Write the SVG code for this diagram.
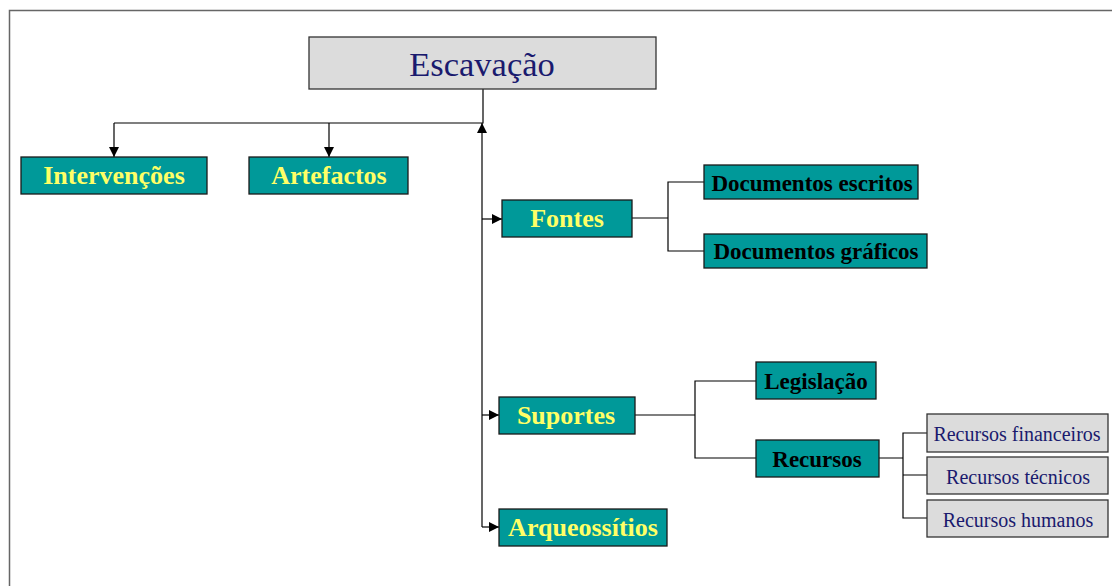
<svg xmlns="http://www.w3.org/2000/svg" width="1112" height="586" viewBox="0 0 1112 586">
<style>
.t{fill:#009999;stroke:#1a1a1a;stroke-width:1.3}
.g{fill:#dcdcdc;stroke:#333;stroke-width:1.3}
.ty{font-family:"Liberation Serif",serif;font-weight:bold;font-size:26px;fill:#ffff66;text-anchor:middle}
.tb{font-family:"Liberation Serif",serif;font-weight:bold;font-size:23px;fill:#000;text-anchor:middle}
.tn{font-family:"Liberation Serif",serif;font-size:20px;fill:#1a1a6e;text-anchor:middle}
.c{fill:none;stroke:#000;stroke-width:1.2}
</style>
<defs>
<marker id="a" viewBox="0 0 10 10" refX="10" refY="5" markerWidth="10" markerHeight="10" markerUnits="userSpaceOnUse" orient="auto">
<path d="M0,0L10,5L0,10z" fill="#000"/>
</marker>
</defs>
<rect width="1112" height="586" fill="#fff"/>
<path d="M9.5,586V10.5H1112" fill="none" stroke="#666" stroke-width="1.5"/>
<g id="connectors">
<path class="c" d="M483,89V123H114"/>
<path class="c" d="M114,123V157" marker-end="url(#a)"/>
<path class="c" d="M329,123V157" marker-end="url(#a)"/>
<path class="c" d="M482,527V123" marker-end="url(#a)"/>
<path class="c" d="M482,219H502" marker-end="url(#a)"/>
<path class="c" d="M482,415H499" marker-end="url(#a)"/>
<path class="c" d="M482,527H499" marker-end="url(#a)"/>
<path class="c" d="M632,218H668M704,182H668V251H704"/>
<path class="c" d="M635,415H695M756,381H695V458H756"/>
<path class="c" d="M879,458H903M927,433H903V518H927M903,475H927"/>
</g>
<g id="escavacao"><rect x="309" y="37" width="347" height="52" class="g"/><text x="482" y="76" font-family="Liberation Serif,serif" font-size="34.5" fill="#1a1a6e" text-anchor="middle">Escavação</text></g>
<g id="intervencoes"><rect x="21" y="157" width="186" height="37" class="t"/><text x="114" y="184" class="ty">Intervenções</text></g>
<g id="artefactos"><rect x="249" y="157" width="159" height="37" class="t"/><text x="329" y="184" class="ty">Artefactos</text></g>
<g id="fontes"><rect x="502" y="200" width="130" height="37" class="t"/><text x="567" y="227" class="ty">Fontes</text></g>
<g id="doc-escritos"><rect x="704" y="165" width="214" height="34" class="t"/><text x="812" y="191" class="tb">Documentos escritos</text></g>
<g id="doc-graficos"><rect x="704" y="234" width="223" height="34" class="t"/><text x="816" y="259" class="tb">Documentos gráficos</text></g>
<g id="suportes"><rect x="499" y="397" width="136" height="37" class="t"/><text x="566" y="424" class="ty">Suportes</text></g>
<g id="legislacao"><rect x="756" y="362" width="120" height="37" class="t"/><text x="816" y="389" class="tb">Legislação</text></g>
<g id="recursos"><rect x="756" y="440" width="123" height="37" class="t"/><text x="817" y="467" class="tb">Recursos</text></g>
<g id="rec-fin"><rect x="927" y="414" width="181" height="38" class="g"/><text x="1017" y="441" class="tn">Recursos financeiros</text></g>
<g id="rec-tec"><rect x="927" y="457" width="181" height="37" class="g"/><text x="1018" y="484" class="tn">Recursos técnicos</text></g>
<g id="rec-hum"><rect x="927" y="500" width="181" height="37" class="g"/><text x="1018" y="527" class="tn">Recursos humanos</text></g>
<g id="arqueossitios"><rect x="499" y="509" width="168" height="37" class="t"/><text x="583" y="536" class="ty">Arqueossítios</text></g>
</svg>
